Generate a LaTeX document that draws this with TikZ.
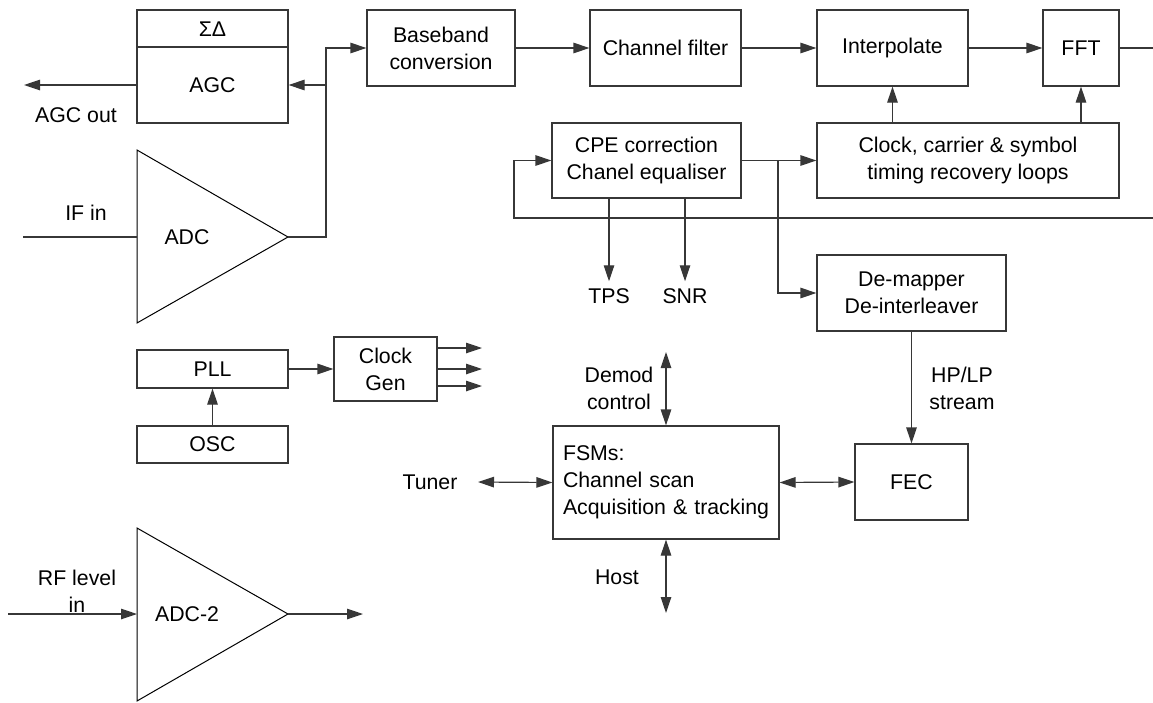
\documentclass[tikz,border=0pt]{standalone}
\usepackage{fontspec}
\setmainfont{Liberation Sans}
\usetikzlibrary{arrows.meta}
\definecolor{lc}{RGB}{55,55,55}
\newcommand{\dfont}{\fontsize{21.3}{27}\selectfont}
\tikzset{
  box/.style={draw=lc, line width=1.2pt, rectangle, inner sep=0pt, align=center, font=\dfont},
  lbl/.style={inner sep=2pt, align=center, font=\dfont},
  ln/.style={draw=lc, line width=1.2pt},
  arr/.style={draw=lc, line width=1.2pt, -{Triangle[length=16pt,width=10.5pt]}},
  darr/.style={draw=lc, line width=1.2pt, {Triangle[length=16pt,width=10.5pt]}-{Triangle[length=16pt,width=10.5pt]}},
  tri/.style={draw=black, line width=1pt, line join=miter}
}
\begin{document}
\begin{tikzpicture}[x=1pt,y=-1pt]
\useasboundingbox (0,0) rectangle (1153,702);

% --- Sigma-Delta / AGC block
\node[box,minimum width=151pt,minimum height=113pt] (sdagc) at (212.5,66.5) {};
\coordinate (div) at (0,47);
\draw[ln] (sdagc.west |- div) -- (sdagc.east |- div);
\node[lbl] (sd) at (212.5,29) {ΣΔ};
\node[lbl] (agc) at (212.5,85) {AGC};
\coordinate (agcout) at (24,85);
\draw[arr] (sdagc.west |- agcout) -- (agcout);
\node[lbl] (agcoutl) at (76,115) {AGC out};

% --- ADC triangle
\coordinate (adcA) at (137,150);
\coordinate (adcB) at (137,323);
\coordinate (adcT) at (288,237);
\draw[tri] (adcA) -- (adcT) -- (adcB) -- cycle;
\node[lbl] (adc) at (187,237) {ADC};
\coordinate (ifin) at (23,237);
\draw[ln] (ifin) -- (adcA |- ifin);
\node[lbl] (ifinl) at (86,213) {IF in};

% --- top chain
\node[box,minimum width=148pt,minimum height=76pt] (bb) at (441,48) {Baseband\\conversion};
\node[box,minimum width=151pt,minimum height=76pt] (cf) at (665.5,48) {Channel filter};
\node[box,minimum width=151pt,minimum height=76pt] (interp) at (892.5,48) {Interpolate};
\node[box,minimum width=76pt,minimum height=76pt] (fft) at (1081,48) {FFT};
\coordinate (fftout) at (1153,48);

\coordinate (j1) at (326,237);
\coordinate (j2) at (326,85);
\draw[arr] (adcT) -- (j1) |- (bb.west);
\draw[arr] (j2) -- (sdagc.east |- j2);
\draw[arr] (bb.east) -- (cf.west);
\draw[arr] (cf.east) -- (interp.west);
\draw[arr] (interp.east) -- (fft.west);
\draw[ln] (fft.east) -- (fftout);

% --- second row
\node[box,minimum width=302pt,minimum height=75pt] (clk) at (968,160.5) {Clock, carrier \& symbol\\timing recovery loops};
\node[box,minimum width=189pt,minimum height=75pt] (cpe) at (646.5,160.5) {CPE correction\\Chanel equaliser};
\draw[arr] (clk.north -| interp.south) -- (interp.south);
\draw[arr] (clk.north -| fft.south) -- (fft.south);
\draw[arr] (cpe.east) -- (clk.west);

\coordinate (fbR) at (1153,218);
\coordinate (fbL) at (514,218);
\draw[arr] (fbR) -- (fbL) |- (cpe.west);

\node[box,minimum width=189pt,minimum height=76pt] (demap) at (911.5,293) {De-mapper\\De-interleaver};
\coordinate (br) at (778,160.5);
\draw[arr] (br) |- (demap.west);

\node[lbl,inner sep=7pt] (tps) at (609,296) {TPS};
\node[lbl,inner sep=7pt] (snr) at (685,296) {SNR};
\draw[arr] (cpe.south -| tps.north) -- (tps.north);
\draw[arr] (cpe.south -| snr.north) -- (snr.north);

% --- FEC and FSMs
\node[box,minimum width=113pt,minimum height=76pt] (fec) at (911.5,482) {FEC};
\draw[arr] (demap.south -| fec.north) -- (fec.north);
\node[lbl] (hplp) at (962,388) {HP/LP\\stream};

\node[box,minimum width=226pt,minimum height=113pt,text width=206pt,inner xsep=10pt,align=left] (fsm) at (666,482.5) {FSMs:\\Channel scan\\Acquisition \& tracking};
\draw[darr] (fsm.east) -- (fec.west);

\coordinate (dctop) at (666,352);
\draw[darr] (dctop) -- (fsm.north);
\node[lbl] (dcl) at (619,388) {Demod\\control};
\coordinate (hostbot) at (666,613);
\draw[darr] (fsm.south) -- (hostbot);
\node[lbl] (hostl) at (617,577) {Host};

\node[lbl] (tuner) at (430,482) {Tuner};
\coordinate (tun) at (478,482);
\draw[darr] (tun) -- (fsm.west);

% --- PLL / OSC / Clock Gen
\node[box,minimum width=151pt,minimum height=38pt] (pll) at (212.5,369) {PLL};
\node[box,minimum width=151pt,minimum height=37pt] (osc) at (212.5,444.5) {OSC};
\draw[arr] (osc.north) -- (pll.south);
\node[box,minimum width=103pt,minimum height=64pt] (cg) at (385.5,369) {Clock\\Gen};
\draw[arr] (pll.east) -- (cg.west);
\coordinate (o1) at (482,348);
\coordinate (o2) at (482,369);
\coordinate (o3) at (482,386);
\draw[arr] (cg.east |- o1) -- (o1);
\draw[arr] (cg.east |- o2) -- (o2);
\draw[arr] (cg.east |- o3) -- (o3);

% --- ADC-2 triangle
\coordinate (adc2A) at (137,528);
\coordinate (adc2B) at (137,701);
\coordinate (adc2T) at (288,614);
\draw[tri] (adc2A) -- (adc2T) -- (adc2B) -- cycle;
\node[lbl] (adc2) at (187,614) {ADC-2};
\coordinate (rfin) at (8,614);
\draw[arr] (rfin) -- (adc2A |- rfin);
\node[lbl] (rfl) at (77,591) {RF level\\in};
\coordinate (adc2out) at (363,614);
\draw[arr] (adc2T) -- (adc2out);
\end{tikzpicture}
\end{document}
